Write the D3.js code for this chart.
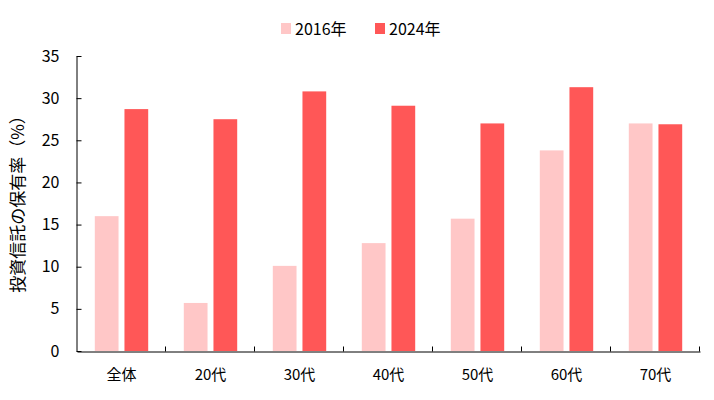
<!DOCTYPE html>
<html>
<head>
<meta charset="utf-8">
<script src="https://cdn.jsdelivr.net/npm/d3@7"></script>
<style>
  html, body { margin: 0; padding: 0; background: #fff; }
  svg { display: block; font-family: "Noto Sans CJK JP", "Noto Sans", sans-serif; }
</style>
</head>
<body>
<svg id="chart" width="714" height="400"></svg>
<script>
const categories = ["全体", "20代", "30代", "40代", "50代", "60代", "70代"];
const seriesNames = ["2016年", "2024年"];
const values2016 = [16.0, 5.7, 10.1, 12.8, 15.7, 23.8, 27.0];
const values2024 = [28.7, 27.5, 30.8, 29.1, 27.0, 31.3, 26.9];
const seriesColors = ["#FFC7C7", "#FF5757"];
const yTicks = [0, 5, 10, 15, 20, 25, 30, 35];
const yTitle = "投資信託の保有率（%）";

const svg = d3.select("#chart");
const margin = { left: 77, right: 14, top: 56, bottom: 49 };
const W = 714, H = 400;
const plotBottom = H - margin.bottom; // 351

const x0 = d3.scaleBand().domain(categories).range([margin.left, W - margin.right]).padding(0);
const x1 = d3.scaleBand().domain(seriesNames)
  .range([0.2 * x0.bandwidth(), 0.8 * x0.bandwidth()]).paddingInner(0.2).paddingOuter(0);
const y = d3.scaleLinear().domain([0, 35]).range([plotBottom, margin.top]);

const data = categories.map((c, i) => ({ cat: c, vals: [values2016[i], values2024[i]] }));

// bars
const g = svg.append("g");
const groups = g.selectAll("g.cat").data(data).join("g")
  .attr("transform", d => `translate(${x0(d.cat)},0)`);
groups.selectAll("rect").data(d => d.vals.map((v, j) => ({ s: seriesNames[j], v, j })))
  .join("rect")
  .attr("x", d => x1(d.s))
  .attr("width", x1.bandwidth())
  .attr("y", d => y(d.v))
  .attr("height", d => y(0) - y(d.v))
  .attr("fill", d => seriesColors[d.j]);

// y axis
const yAxis = svg.append("g")
  .attr("transform", `translate(${margin.left - 0.5},0)`)
  .call(d3.axisLeft(y).tickValues(yTicks).tickSizeInner(-5).tickSizeOuter(0).tickPadding(17));
yAxis.selectAll("text").attr("font-size", 16).attr("fill", "#000")
  .attr("font-family", "'Noto Sans CJK JP', 'Noto Sans', sans-serif");
yAxis.selectAll("line, path").attr("stroke", "#000").attr("stroke-width", 1);

// x axis
const xAxis = svg.append("g")
  .attr("transform", `translate(0,${plotBottom + 0.5})`)
  .call(d3.axisBottom(x0).tickSize(0).tickPadding(18));
xAxis.select(".domain").attr("stroke", "#000");
xAxis.selectAll("text").attr("font-size", 15).attr("fill", "#000")
  .attr("font-family", "'Noto Sans CJK JP', 'Noto Sans', sans-serif");
xAxis.selectAll("line.sep").data(categories).join("line")
  .attr("class", "sep")
  .attr("x1", d => Math.round(x0(d) + x0.bandwidth()) - 0.5)
  .attr("x2", d => Math.round(x0(d) + x0.bandwidth()) - 0.5)
  .attr("y1", 0).attr("y2", -5)
  .attr("stroke", "#000");

// y title
svg.append("text")
  .attr("transform", `translate(24,200) rotate(-90)`)
  .attr("text-anchor", "middle")
  .attr("font-size", 17)
  .attr("fill", "#000")
  .text(yTitle);

// legend
const legendX = [281, 375];
const legend = svg.append("g");
seriesNames.forEach((s, i) => {
  legend.append("rect").attr("x", legendX[i]).attr("y", 23).attr("width", 10).attr("height", 11)
    .attr("fill", seriesColors[i]);
  legend.append("text").attr("x", legendX[i] + 14).attr("y", 29).attr("dy", "0.35em")
    .attr("font-size", 16).attr("fill", "#000").text(s);
});
</script>
</body>
</html>
